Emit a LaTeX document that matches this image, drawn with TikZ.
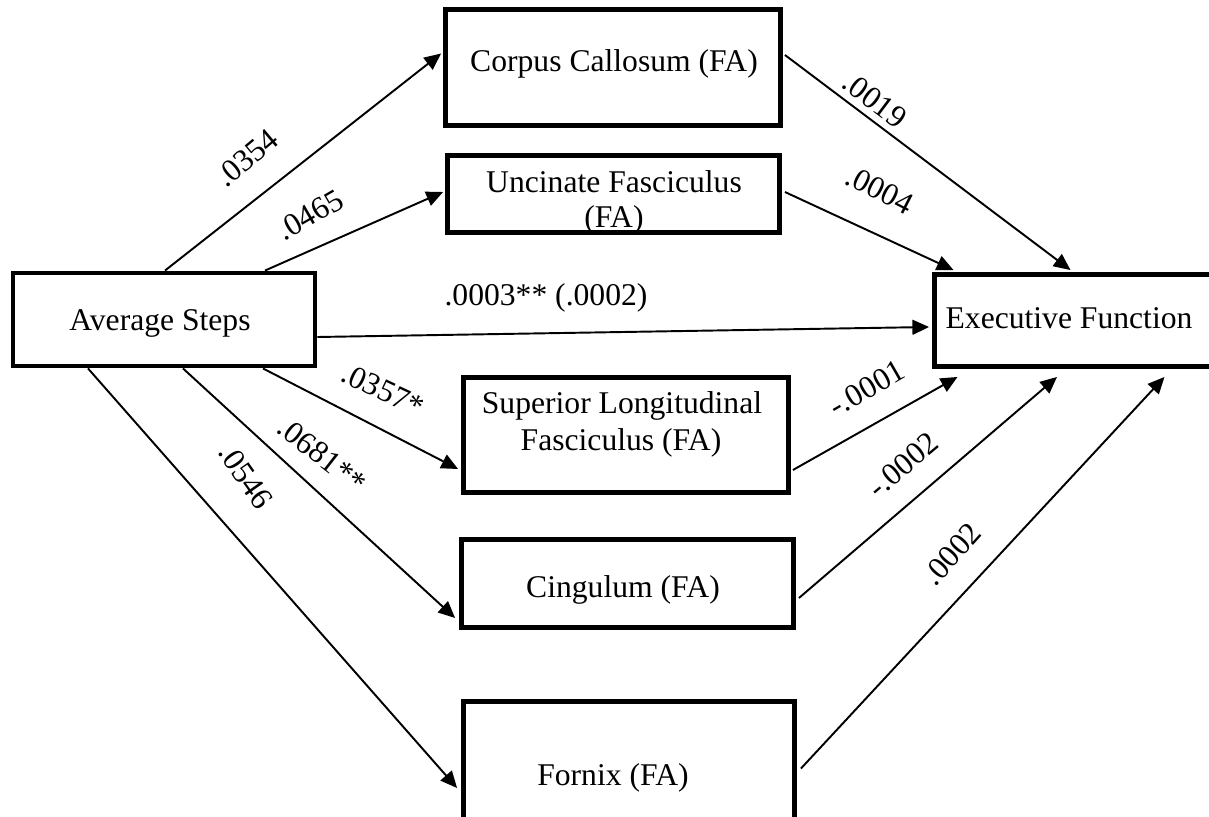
\documentclass[tikz,border=0pt]{standalone}
\usepackage{fontspec}
\setmainfont{Liberation Serif}
\usetikzlibrary{arrows.meta,calc}
\begin{document}
\begin{tikzpicture}[x=0.02cm,y=-0.02cm,
  box/.style={draw, line width=2.8pt, rectangle, inner sep=0pt},
  txt/.style={font=\fontsize{18}{21}\selectfont, inner sep=0pt, anchor=base},
  coef/.style={font=\fontsize{18}{21}\selectfont, inner sep=0pt},
  link/.style={line width=1.1pt, -{Triangle[length=9.5pt,width=8.5pt]}}]
\useasboundingbox (0,0) rectangle (1209,817);
\clip (0,0) rectangle (1209,817);

% boxes
\node[box, minimum width=6.04cm, minimum height=1.86cm] (avg)    at (164,319.5) {};
\node[box, minimum width=6.70cm, minimum height=2.32cm] (corpus) at (613,67.5) {};
\node[box, minimum width=6.64cm, minimum height=1.54cm] (unc)    at (613.5,194) {};
\node[box, minimum width=6.50cm, minimum height=2.30cm] (sup)    at (626,435) {};
\node[box, minimum width=6.64cm, minimum height=1.76cm] (cing)   at (627.5,583.5) {};
\node[box, minimum width=6.62cm, minimum height=3.00cm] (fornix) at (629,776.5) {};
\node[box, minimum width=5.60cm, minimum height=1.84cm] (exec)   at (1074.5,320.5) {};

% box texts
\node[txt] (avgtxt)  at (160,330) {Average Steps};
\node[txt] (cortxt)  at (614,72)  {Corpus Callosum (FA)};
\node[txt] (unctxtA) at (614,193) {Uncinate Fasciculus};
\node[txt] (unctxtB) at (614,228) {(FA)};
\node[txt] (suptxtA) at (622,413) {Superior Longitudinal};
\node[txt] (suptxtB) at (621,450) {Fasciculus (FA)};
\node[txt] (cingtxt) at (623,597) {Cingulum (FA)};
\node[txt] (fortxt)  at (613,785) {Fornix (FA)};
\node[txt] (exectxt) at (1069,328) {Executive Function};

% paths from average steps
\draw[link] ($(avg.north)+(1,0)$)   -- ($(corpus.west)+(-2,-14)$);
\draw[link] ($(avg.north)+(101,0)$) -- ($(unc.west)+(-2,-2)$);
\draw[link] ($(avg.east)+(0,17.5)$) -- ($(exec.west)+(-3,6.5)$);
\draw[link] ($(avg.south)+(99,0)$)  -- ($(sup.west)+(-3,34)$);
\draw[link] ($(avg.south)+(19,0)$)  -- ($(cing.west)+(-4,34.5)$);
\draw[link] ($(avg.south)+(-76,0)$) -- ($(fornix.west)+(-4,11.5)$);

% paths into executive function
\draw[link] ($(corpus.east)+(2,-12.5)$) -- ($(exec.north)+(-4,-2)$);
\draw[link] ($(unc.east)+(3,-2)$)       -- ($(exec.north)+(-121,-2)$);
\draw[link] ($(sup.east)+(2,35)$)       -- ($(exec.south)+(-117,8)$);
\draw[link] ($(cing.east)+(3,14.5)$)    -- ($(exec.south)+(-17.5,8)$);
\draw[link] ($(fornix.east)+(4,-8)$)    -- ($(exec.south)+(90,8)$);

% coefficients
\node[coef, rotate=40]  (c1)  at (247,158) {.0354};
\node[coef, rotate=30]  (c2)  at (310,215) {.0465};
\node[coef]             (c3)  at (546,298) {.0003** (.0002)};
\node[coef, rotate=-25] (c4)  at (383,390) {.0357*};
\node[coef, rotate=-38] (c5)  at (322,455) {.0681**};
\node[coef, rotate=-55] (c6)  at (246,476) {.0546};
\node[coef, rotate=-37] (c7)  at (875,100) {.0019};
\node[coef, rotate=-27] (c8)  at (880,190) {.0004};
\node[coef, rotate=30]  (c9)  at (867,388) {-.0001};
\node[coef, rotate=40]  (c10) at (903,465) {-.0002};
\node[coef, rotate=48]  (c11) at (952,554) {.0002};
\end{tikzpicture}
\end{document}
